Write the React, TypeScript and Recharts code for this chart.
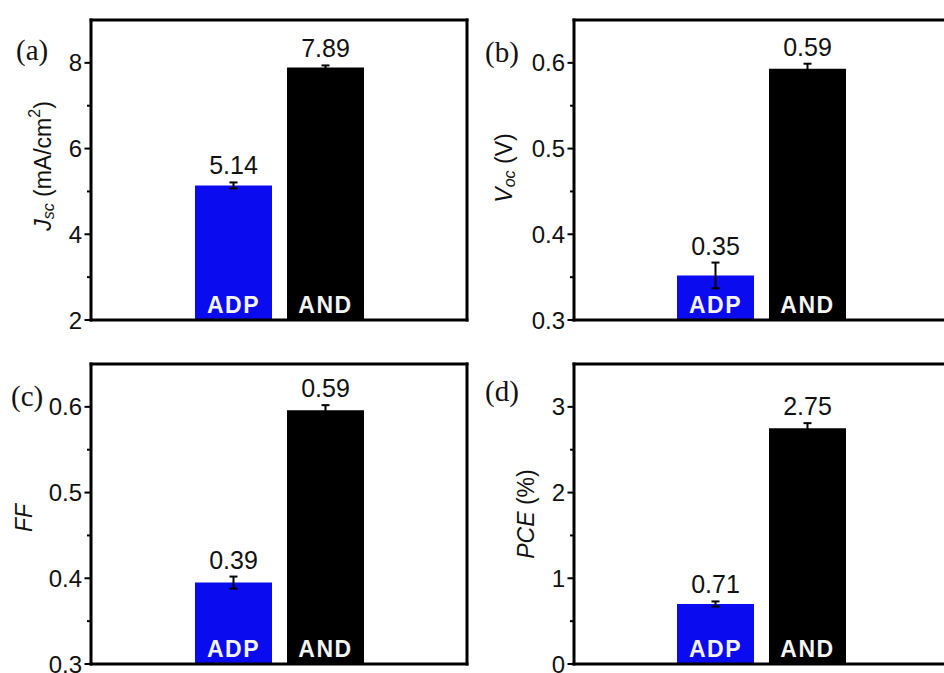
import React from 'react';
import { BarChart, Bar, XAxis, YAxis, ErrorBar, LabelList } from 'recharts';

const groups = ['ADP', 'AND'];
const barColors = ['#0b0bf0', '#000000'];

// (a) Jsc
const jscValues = [5.14, 7.89];
const jscErrors = [0.07, 0.05];
const jscLabels = ['5.14', '7.89'];
const jscTicks = [2, 3, 4, 5, 6, 7, 8];
const jscMajor = [2, 4, 6, 8];

// (b) Voc
const vocValues = [0.352, 0.593];
const vocErrors = [0.015, 0.006];
const vocLabels = ['0.35', '0.59'];
const vocTicks = [0.3, 0.35, 0.4, 0.45, 0.5, 0.55, 0.6];
const vocMajor = [0.3, 0.4, 0.5, 0.6];

// (c) FF
const ffValues = [0.395, 0.596];
const ffErrors = [0.007, 0.006];
const ffLabels = ['0.39', '0.59'];
const ffTicks = [0.3, 0.35, 0.4, 0.45, 0.5, 0.55, 0.6];
const ffMajor = [0.3, 0.4, 0.5, 0.6];

// (d) PCE
const pceValues = [0.7, 2.75];
const pceErrors = [0.03, 0.06];
const pceLabels = ['0.71', '2.75'];
const pceTicks = [0, 0.5, 1, 1.5, 2, 2.5, 3];
const pceMajor = [0, 1, 2, 3];

const SANS = '"Liberation Sans", Arial, sans-serif';
const SERIF = '"Liberation Serif", "Times New Roman", serif';
const PLOT_H = 300;

const makeTick = (major: number[]) => (props: any) => {
  const { x, y, payload } = props;
  const v = payload.value;
  const isMajor = major.some((m) => Math.abs(m - v) < 1e-9);
  return (
    <g>
      <line x1={x - (isMajor ? 6.5 : 4)} x2={x} y1={y} y2={y} stroke="#000" strokeWidth={2} />
      {isMajor && (
        <text x={x - 9} y={y} dy="0.36em" textAnchor="end" fontSize={24} fontFamily={SANS} fill="#111">
          {String(v)}
        </text>
      )}
    </g>
  );
};

const topLabel = (text: string, errPx: number) => (props: any) => {
  const vb = props.viewBox || props;
  const x = props.x ?? vb.x;
  const y = props.y ?? vb.y;
  const w = props.width ?? vb.width;
  return (
    <text x={x + w / 2} y={y - errPx - 8} textAnchor="middle" fontSize={25} fontFamily={SANS} fill="#111">
      {text}
    </text>
  );
};

const insideLabel = (text: string) => (props: any) => {
  const vb = props.viewBox || props;
  const x = props.x ?? vb.x;
  const y = props.y ?? vb.y;
  const w = props.width ?? vb.width;
  const h = props.height ?? vb.height;
  return (
    <text
      x={x + w / 2}
      y={y + h - 7}
      textAnchor="middle"
      fontSize={23}
      fontWeight="bold"
      letterSpacing={1.5}
      fontFamily={SANS}
      fill="#f4f4f4"
    >
      {text}
    </text>
  );
};

const titleLabel = (content: React.ReactNode, dist: number, dy: number) => (props: any) => {
  const vb = props.viewBox;
  const cx = vb.x + vb.width - dist;
  const cy = vb.y + vb.height / 2 + dy;
  return (
    <text
      x={cx}
      y={cy}
      transform={`rotate(-90 ${cx} ${cy})`}
      textAnchor="middle"
      dominantBaseline="central"
      fontSize={23}
      fontFamily={SANS}
      fill="#111"
    >
      {content}
    </text>
  );
};

interface PanelProps {
  values: number[];
  errors: number[];
  labels: string[];
  domain: [number, number];
  ticks: number[];
  major: number[];
  title: React.ReactNode;
  titleDist: number;
  titleDy: number;
  left: number;
  top: number;
  width: number;
  marginLeft: number;
}

const Panel: React.FC<PanelProps> = ({
  values, errors, labels, domain, ticks, major, title, titleDist, titleDy, left, top, width, marginLeft,
}) => {
  const data = [{ name: 'x', ADP: values[0], AND: values[1], ADPerr: errors[0], ANDerr: errors[1] }];
  const ppu = PLOT_H / (domain[1] - domain[0]);
  const frame = { stroke: '#000', strokeWidth: 3, strokeLinecap: 'square' as const };
  return (
    <div style={{ position: 'absolute', left, top }}>
      <BarChart
        width={width}
        height={336}
        data={data}
        margin={{ top: 19, right: 4, bottom: 15, left: marginLeft }}
        barGap={15}
      >
        <XAxis dataKey="name" height={1} tick={false} tickLine={false} axisLine={frame} />
        <XAxis xAxisId="top" orientation="top" dataKey="name" height={1} tick={false} tickLine={false} axisLine={frame} />
        <YAxis
          type="number"
          domain={domain}
          ticks={ticks}
          interval={0}
          width={60}
          tickSize={0}
          tickMargin={0}
          tickLine={false}
          axisLine={frame}
          tick={makeTick(major)}
          allowDataOverflow
          label={titleLabel(title, titleDist, titleDy)}
        />
        <YAxis yAxisId="right" orientation="right" type="number" domain={domain} width={1} tick={false} tickLine={false} axisLine={frame} />
        {groups.map((g, i) => (
          <Bar key={g} dataKey={g} fill={barColors[i]} barSize={77} isAnimationActive={false}>
            <ErrorBar dataKey={`${g}err`} width={4} strokeWidth={2} stroke="#000" direction="y" />
            <LabelList dataKey={g} content={topLabel(labels[i], errors[i] * ppu)} />
            <LabelList dataKey={g} content={insideLabel(g)} />
          </Bar>
        ))}
      </BarChart>
    </div>
  );
};

const sub = { fontSize: 16, fontStyle: 'italic' as const };

export default function App() {
  return (
    <div
      style={{
        position: 'absolute',
        left: 0,
        top: 0,
        width: 944,
        height: 673,
        background: '#fff',
        overflow: 'hidden',
      }}
    >
      <Panel
        values={jscValues}
        errors={jscErrors}
        labels={jscLabels}
        domain={[2, 9]}
        ticks={jscTicks}
        major={jscMajor}
        title={
          <>
            <tspan fontStyle="italic">J</tspan>
            <tspan {...sub} dy={5}>sc</tspan>
            <tspan dy={-5}> (mA/cm</tspan>
            <tspan fontSize={16} dy={-9}>2</tspan>
            <tspan dy={9}>)</tspan>
          </>
        }
        titleDist={48}
        titleDy={-4}
        left={0}
        top={0}
        width={472}
        marginLeft={31}
      />
      <Panel
        values={vocValues}
        errors={vocErrors}
        labels={vocLabels}
        domain={[0.3, 0.65]}
        ticks={vocTicks}
        major={vocMajor}
        title={
          <>
            <tspan fontStyle="italic">V</tspan>
            <tspan {...sub} dy={5}>oc</tspan>
            <tspan dy={-5}> (V)</tspan>
          </>
        }
        titleDist={70}
        titleDy={-2}
        left={472}
        top={0}
        width={482}
        marginLeft={42}
      />
      <Panel
        values={ffValues}
        errors={ffErrors}
        labels={ffLabels}
        domain={[0.3, 0.65]}
        ticks={ffTicks}
        major={ffMajor}
        title={<tspan fontStyle="italic">FF</tspan>}
        titleDist={67}
        titleDy={4}
        left={0}
        top={344}
        width={472}
        marginLeft={31}
      />
      <Panel
        values={pceValues}
        errors={pceErrors}
        labels={pceLabels}
        domain={[0, 3.5]}
        ticks={pceTicks}
        major={pceMajor}
        title={
          <>
            <tspan fontStyle="italic">PCE</tspan>
            <tspan> (%)</tspan>
          </>
        }
        titleDist={48}
        titleDy={0}
        left={472}
        top={344}
        width={482}
        marginLeft={42}
      />
      <svg
        width={944}
        height={673}
        style={{ position: 'absolute', left: 0, top: 0, pointerEvents: 'none' }}
      >
        <g fontFamily={SERIF} fontSize={29} fill="#111">
          <text x={16} y={60}>(a)</text>
          <text x={485} y={62}>(b)</text>
          <text x={11} y={406}>(c)</text>
          <text x={485} y={401}>(d)</text>
        </g>
      </svg>
    </div>
  );
}
